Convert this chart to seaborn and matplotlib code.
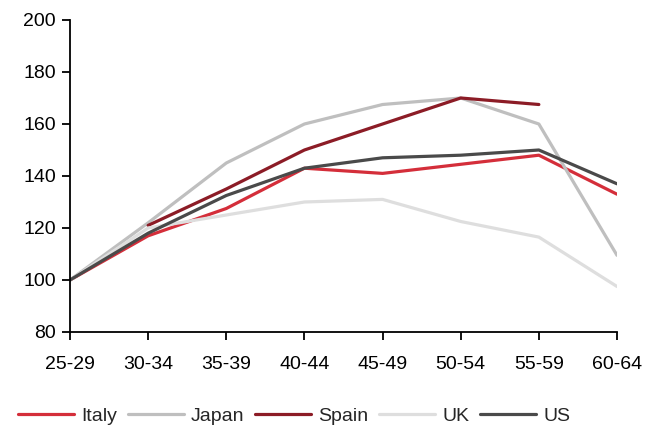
import numpy as np
import pandas as pd
import matplotlib
matplotlib.use('Agg')
import matplotlib.pyplot as plt
import seaborn as sns

ages = ['25-29', '30-34', '35-39', '40-44', '45-49', '50-54', '55-59', '60-64']
italy = [100, 117, 127.5, 143, 141, 144.5, 148, 133]
japan = [100, 122, 145, 160, 167.5, 170, 160, 109.5]
spain = [np.nan, 121, 135, 150, 160, 170, 167.5, np.nan]
uk = [100, 120, 125, 130, 131, 122.5, 116.5, 97.5]
us = [100, 118, 132.5, 143, 147, 148, 150, 137]

countries = ['Italy', 'Japan', 'Spain', 'UK', 'US']
colours = ['#d42e3a', '#bfbfbf', '#8c1c26', '#dedede', '#4a4a4a']

df = pd.DataFrame({'age': ages, 'Italy': italy, 'Japan': japan,
                   'Spain': spain, 'UK': uk, 'US': us})
long = df.melt(id_vars='age', var_name='country', value_name='value')

sns.set_style('white')
plt.rcParams['font.family'] = ['Liberation Sans', 'DejaVu Sans']

fig = plt.figure(figsize=(6.58, 4.29), dpi=100)
ax = fig.add_axes([70 / 658, 1 - 332 / 429, (617 - 70) / 658, (332 - 20) / 429])
sns.lineplot(data=long, x='age', y='value', hue='country', hue_order=countries,
             palette=colours, linewidth=2.3, ax=ax, sort=False)

ax.set_xlim(0, 7)
ax.set_ylim(80, 200)
ax.set_yticks(range(80, 201, 20))
ax.set_xlabel('')
ax.set_ylabel('')
for s in ['top', 'right']:
    ax.spines[s].set_visible(False)
for s in ['left', 'bottom']:
    ax.spines[s].set_color('black')
    ax.spines[s].set_linewidth(1.3)
ax.tick_params(axis='both', which='major', direction='out', length=6, width=1.3,
               color='black', labelsize=14, labelcolor='black', bottom=True, left=True)
ax.tick_params(axis='x', pad=11)
ax.tick_params(axis='y', pad=4)

ax.get_legend().remove()
handles, labels = ax.get_legend_handles_labels()
fig.legend(handles, labels, loc='center', ncol=5, frameon=False,
           bbox_to_anchor=(294 / 658, 1 - 416 / 429), fontsize=14,
           handlelength=2.9, handletextpad=0.35, columnspacing=0.55)

fig.savefig('out.png', dpi=100)
